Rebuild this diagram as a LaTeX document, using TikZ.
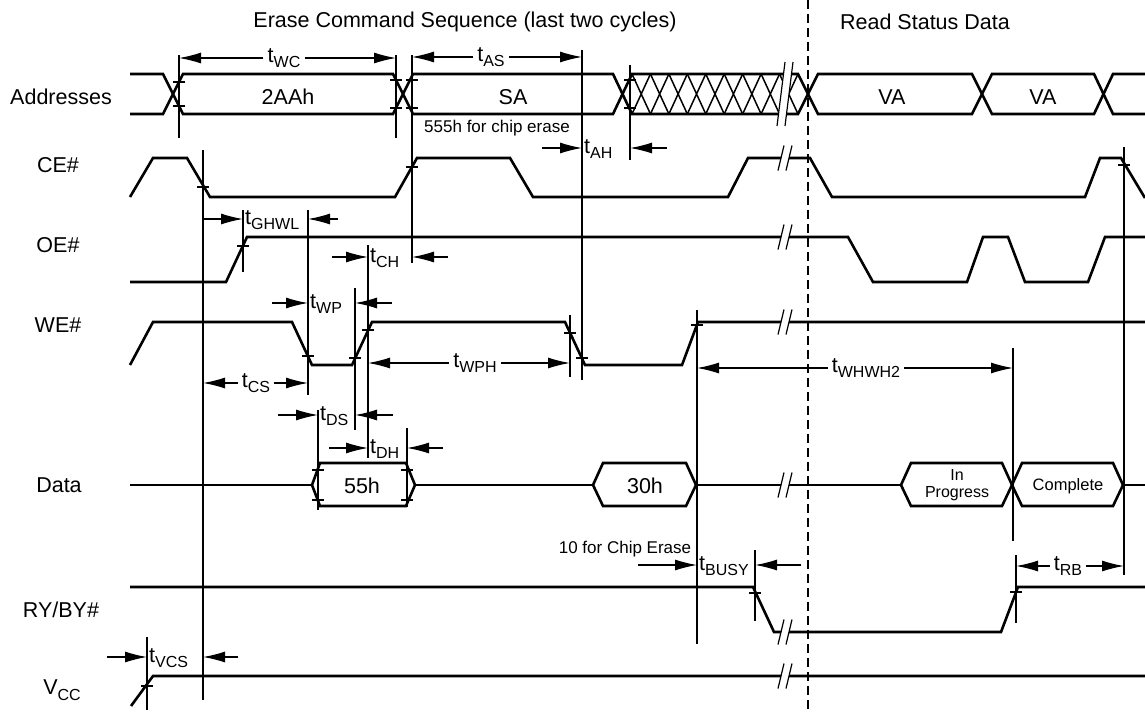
\documentclass[tikz,border=0pt]{standalone}
\usepackage{fontspec}
\setmainfont{Liberation Sans}
\usetikzlibrary{arrows.meta}
\newcommand\tsig[1]{t\raisebox{-0.25em}{\fontsize{16}{16}\selectfont #1}}
\begin{document}
\begin{tikzpicture}[x=1pt,y=-1pt,
  sig/.style={line width=2.6pt},
  thn/.style={line width=1.2pt},
  hat/.style={line width=1.5pt},
  tarr/.style={thn,-{Latex[length=22pt,width=11pt]}},
  lab/.style={font=\fontsize{21.5}{24}\selectfont, inner sep=0pt},
  tlab/.style={font=\fontsize{21.5}{24}\selectfont, inner sep=4pt},
  note/.style={font=\fontsize{17}{19}\selectfont, inner sep=0pt},
  tk/.pic={\draw[thn] (-6,0) -- (6,0);},
  brk/.pic={\fill[white] (-7,12.5) -- (-1,-12.5) -- (7,-12.5) -- (1,12.5) -- cycle;
            \draw[thn] (-7,12.5) -- (-1,-12.5) (1,12.5) -- (7,-12.5);},
  bbrk/.pic={\fill[white] (-8,32) -- (0,-32) -- (8,-32) -- (0,32) -- cycle;
            \draw[thn] (-8,32) -- (0,-32) (0,32) -- (8,-32);}
]
\useasboundingbox (0,0) rectangle (1145,713);
\fill[white] (0,0) rectangle (1145,713);

% titles
\node[lab] (title1) at (465,22) {Erase Command Sequence (last two cycles)};
\node[lab] (title2) at (925,22) {Read Status Data};

% row labels
\node[lab] (lAddr) at (61,97) {Addresses};
\node[lab] (lCE) at (58,165) {CE\#};
\node[lab] (lOE) at (58,245) {OE\#};
\node[lab] (lWE) at (58,325) {WE\#};
\node[lab] (lData) at (59,485) {Data};
\node[lab] (lRY) at (61,610) {RY/BY\#};
\node[lab] (lVCC) at (62,690) {V\raisebox{-0.25em}{\fontsize{16}{16}\selectfont CC}};

% address bus
\draw[sig] (130,74)--(163,74)--(183,114)--(393,114)--(413,74)--(613,74)--(632,114)--(798,114)--(818,74)--(972,74)--(992,114)--(1094,114)--(1113,74)--(1145,74);
\draw[sig] (130,114)--(163,114)--(183,74)--(393,74)--(413,114)--(613,114)--(632,74)--(798,74)--(818,114)--(972,114)--(992,74)--(1094,74)--(1113,114)--(1145,114);
\foreach \i in {0,...,8}
  \draw[hat] ({632+18.44*\i},74) -- ({650.44+18.44*\i},114) ({632+18.44*\i},114) -- ({650.44+18.44*\i},74);
\pic at (785,94) {bbrk};
\node[lab] (a2AAh) at (288,97) {2AAh};
\node[lab] (aSA) at (513,97) {SA};
\node[lab] (aVA1) at (892,97) {VA};
\node[lab] (aVA2) at (1043,97) {VA};
\node[note] (n555) at (497,128) {555h for chip erase};

% CE#
\draw[sig] (130,197)--(153,158)--(187,158)--(210,197)--(395,197)--(417,158)--(510,158)--(533,197)--(728,197)--(748,158)--(810,158)--(832,197)--(1085,197)--(1100,158)--(1121,158)--(1145,198);
% OE#
\draw[sig] (130,282)--(226,282)--(247,237)--(848,237)--(873,282)--(967,282)--(983,237)--(1008,237)--(1025,282)--(1088,282)--(1105,237)--(1145,237);
% WE#
\draw[sig] (130,365)--(153,322)--(292,322)--(312,365)--(352,365)--(372,322)--(565,322)--(585,365)--(682,365)--(698,322)--(1145,322);
% Data
\draw[sig] (130,485)--(312,485);
\draw[sig] (312,485)--(320,463)--(406,463)--(415,485)--(406,506)--(320,506)--cycle;
\draw[sig] (415,485)--(593,485);
\draw[sig] (593,485)--(603,463)--(686,463)--(696,485)--(686,506)--(603,506)--cycle;
\draw[sig] (696,485)--(901,485);
\draw[sig] (901,485)--(911,463)--(1002,463)--(1012,485)--(1002,506)--(911,506)--cycle;
\draw[sig] (1012,485)--(1022,463)--(1113,463)--(1123,485)--(1113,506)--(1022,506)--cycle;
\draw[sig] (1123,485)--(1145,485);
\node[lab] (d55) at (362,486) {55h};
\node[lab] (d30) at (645,486) {30h};
\node[font=\fontsize{16}{17}\selectfont, align=center, inner sep=0pt] (dIP) at (957,485) {In\\Progress};
\node[font=\fontsize{16.5}{18}\selectfont, inner sep=0pt] (dC) at (1068,486) {Complete};
\node[note] (n10) at (625,549) {10 for Chip Erase};
% RY/BY#
\draw[sig] (130,587)--(753,587)--(774,632)--(1001,632)--(1018,587)--(1145,587);
% VCC
\draw[sig] (131,706)--(153,676)--(1145,676);

% breaks
\foreach \y in {158,237,322,485,632,676}
  \pic at (785,\y) {brk};

% timing verticals
\foreach \x/\a/\b in {179/55/138, 396/55/138, 412/55/263, 582/50/380, 630/65/160, 203/150/700, 243/210/272, 308/210/395, 368/245/458, 355/288/430, 570/315/377, 697/310/644, 1013/348/541, 318/410/510, 407/428/507, 755/550/621, 1016/555/623, 1124/147/575, 147/637/710}
  \draw[thn] (\x,\a) -- (\x,\b);
% ticks
\foreach \x/\y in {179/82,179/106,396/80,396/108,412/80,412/108,630/80,630/108,203/187,412/167,243/246,308/356,355/358,368/330,570/333,582/358,697/325,318/470,318/500,407/470,407/500,755/593,1016/592,1124/165,147/686}
  \pic at (\x,\y) {tk};

% double arrows with centred labels
\node[tlab] (tWC) at (284,58) {\tsig{WC}};
\draw[tarr] (tWC.west) -- (179,58);
\draw[tarr] (tWC.east) -- (396,58);
\node[tlab] (tAS) at (491,57) {\tsig{AS}};
\draw[tarr] (tAS.west) -- (412,57);
\draw[tarr] (tAS.east) -- (582,57);
\node[tlab] (tWPH) at (475,363) {\tsig{WPH}};
\draw[tarr] (tWPH.west) -- (368,363);
\draw[tarr] (tWPH.east) -- (570,363);
\node[tlab] (tCS) at (256,383) {\tsig{CS}};
\draw[tarr] (tCS.west) -- (203,383);
\draw[tarr] (tCS.east) -- (308,383);
\node[tlab] (tWHWH) at (866,368) {\tsig{WHWH2}};
\draw[tarr] (tWHWH.west) -- (697,368);
\draw[tarr] (tWHWH.east) -- (1013,368);
\node[tlab] (tRB) at (1068,566) {\tsig{RB}};
\draw[tarr] (tRB.west) -- (1016,566);
\draw[tarr] (tRB.east) -- (1124,566);

% outside arrows
\node[tlab, anchor=west, inner sep=2pt] (tAH) at (582,149) {\tsig{AH}};
\draw[tarr] (542,148) -- (582,148);
\draw[tarr] (667,148) -- (630,148);
\node[tlab, anchor=west, inner sep=2pt] (tGHWL) at (243,220) {\tsig{GHWL}};
\draw[tarr] (203,219) -- (243,219);
\draw[tarr] (338,219) -- (308,219);
\node[tlab, anchor=west, inner sep=2pt] (tCH) at (368,258) {\tsig{CH}};
\draw[tarr] (332,257) -- (368,257);
\draw[tarr] (448,257) -- (412,257);
\node[tlab, anchor=west, inner sep=2pt] (tWP) at (308,304) {\tsig{WP}};
\draw[tarr] (272,303) -- (308,303);
\draw[tarr] (392,303) -- (355,303);
\node[tlab, anchor=west, inner sep=2pt] (tDS) at (318,416) {\tsig{DS}};
\draw[tarr] (278,415) -- (318,415);
\draw[tarr] (393,415) -- (355,415);
\node[tlab, anchor=west, inner sep=2pt] (tDH) at (368,449) {\tsig{DH}};
\draw[tarr] (329,448) -- (368,448);
\draw[tarr] (443,448) -- (407,448);
\node[tlab, anchor=west, inner sep=2pt] (tBUSY) at (697,566) {\tsig{BUSY}};
\draw[tarr] (638,565) -- (697,565);
\draw[tarr] (801,565) -- (755,565);
\node[tlab, anchor=west, inner sep=2pt] (tVCS) at (147,658) {\tsig{VCS}};
\draw[tarr] (107,657) -- (147,657);
\draw[tarr] (238,657) -- (203,657);

% dashed separator
\draw[thn, dash pattern=on 9pt off 5pt] (808,0) -- (808,713);
\end{tikzpicture}
\end{document}
